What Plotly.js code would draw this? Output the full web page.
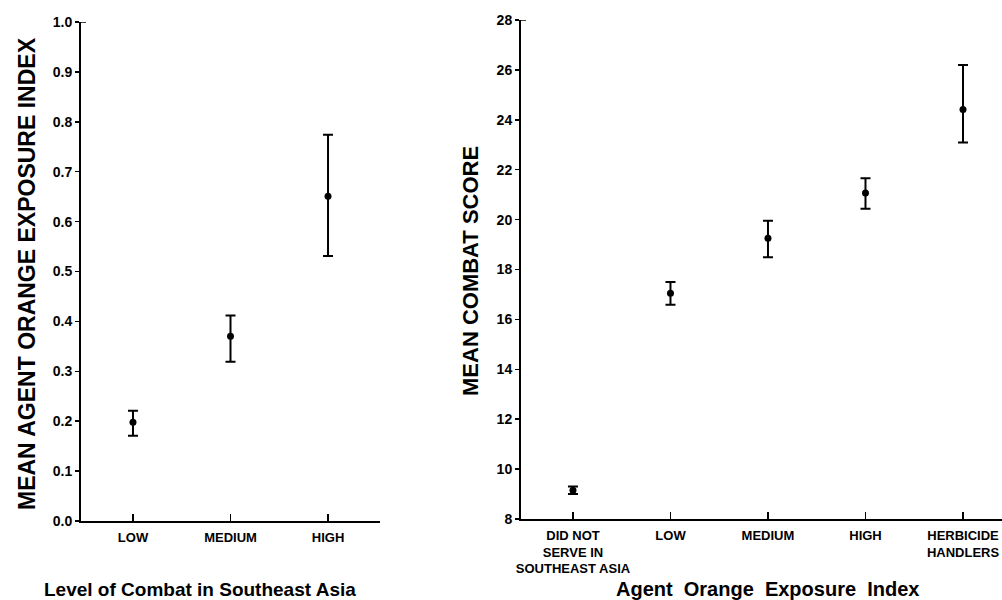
<!DOCTYPE html>
<html>
<head>
<meta charset="utf-8">
<script src="https://cdn.plot.ly/plotly-3.0.1.min.js"></script>
<style>html,body{margin:0;padding:0;background:#fff;}#chart{width:1002px;height:600px;}</style>
</head>
<body>
<div id="chart"></div>
<script>
// Left panel: Mean Agent Orange exposure index by level of combat
var combatLevels = ["LOW", "MEDIUM", "HIGH"];
var combatLabels = ["LOW", "MEDIUM", "HIGH"];
var exposureMean = [0.198, 0.370, 0.651];
var exposureUpper = [0.221, 0.412, 0.774];
var exposureLower = [0.171, 0.319, 0.531];
var leftYTicks = [0.0, 0.1, 0.2, 0.3, 0.4, 0.5, 0.6, 0.7, 0.8, 0.9, 1.0];

// Right panel: Mean combat score by Agent Orange exposure index
var exposureGroups = ["DID NOT SERVE", "LOW", "MEDIUM", "HIGH", "HERBICIDE HANDLERS"];
var exposureLabels = ["DID NOT<br>SERVE IN<br>SOUTHEAST ASIA", "LOW", "MEDIUM", "HIGH", "HERBICIDE<br>HANDLERS"];
var combatMean = [9.15, 17.05, 19.25, 21.07, 24.41];
var combatUpper = [9.30, 17.50, 19.95, 21.66, 26.20];
var combatLower = [9.00, 16.59, 18.49, 20.43, 23.09];
var rightYTicks = [8, 10, 12, 14, 16, 18, 20, 22, 24, 26, 28];

function diff(a, b) { return a.map(function (v, i) { return Math.round((v - b[i]) * 1000) / 1000; }); }

var FONT = "Liberation Sans, Arial, sans-serif";

var traces = [
  {
    type: "scatter", mode: "markers",
    x: combatLevels, y: exposureMean, xaxis: "x", yaxis: "y",
    marker: {color: "#000", size: 7},
    error_y: {type: "data", symmetric: false,
      array: diff(exposureUpper, exposureMean),
      arrayminus: diff(exposureMean, exposureLower),
      color: "#000", thickness: 2, width: 5},
    hoverinfo: "skip", showlegend: false
  },
  {
    type: "scatter", mode: "markers",
    x: exposureGroups, y: combatMean, xaxis: "x2", yaxis: "y2",
    marker: {color: "#000", size: 7},
    error_y: {type: "data", symmetric: false,
      array: diff(combatUpper, combatMean),
      arrayminus: diff(combatMean, combatLower),
      color: "#000", thickness: 2, width: 5},
    hoverinfo: "skip", showlegend: false
  }
];

var xCommon = {
  type: "category", showline: true, linecolor: "#000", linewidth: 2,
  showgrid: false, zeroline: false, ticks: "inside", ticklen: 7, tickwidth: 1.5, tickcolor: "#000",
  ticklabelstandoff: 3,
  tickfont: {family: FONT, size: 13, color: "#000", weight: "bold"}, fixedrange: true
};
var yCommon = {
  showline: true, linecolor: "#000", linewidth: 2, showgrid: false, zeroline: false,
  ticks: "outside", ticklen: 4, tickwidth: 1.5, tickcolor: "#000",
  tickfont: {family: FONT, size: 14, color: "#000", weight: "bold"}, fixedrange: true
};

var layout = {
  width: 1002, height: 600,
  margin: {l: 0, r: 0, t: 0, b: 0},
  paper_bgcolor: "#fff", plot_bgcolor: "#fff",
  showlegend: false,
  xaxis: Object.assign({}, xCommon, {
    domain: [81 / 1002, 380 / 1002], anchor: "y",
    range: [-0.533, 2.533], tickvals: combatLevels, ticktext: combatLabels
  }),
  yaxis: Object.assign({}, yCommon, {
    domain: [79 / 600, 578 / 600], anchor: "x",
    range: [0, 1.0], tickvals: leftYTicks, tickformat: ".1f"
  }),
  xaxis2: Object.assign({}, xCommon, {
    domain: [521 / 1002, 1], anchor: "y2",
    range: [-0.533, 4.4], tickvals: exposureGroups, ticktext: exposureLabels
  }),
  yaxis2: Object.assign({}, yCommon, {
    domain: [81 / 600, 580 / 600], anchor: "x2",
    range: [8, 28], tickvals: rightYTicks
  }),
  shapes: [
    {type: "line", xref: "paper", yref: "y", x0: 81 / 1002, x1: 86 / 1002, y0: 1.0, y1: 1.0,
      line: {color: "#000", width: 1.5}},
    {type: "line", xref: "paper", yref: "y2", x0: 521 / 1002, x1: 526 / 1002, y0: 28, y1: 28,
      line: {color: "#000", width: 1.5}}
  ],
  annotations: [
    {text: "MEAN AGENT ORANGE EXPOSURE INDEX", xref: "paper", yref: "paper",
      x: 27 / 1002, y: (600 - 274) / 600, xanchor: "center", yanchor: "middle", textangle: -90,
      showarrow: false, font: {family: FONT, size: 23, color: "#000", weight: "bold"}},
    {text: "MEAN COMBAT SCORE", xref: "paper", yref: "paper",
      x: 470 / 1002, y: (600 - 271) / 600, xanchor: "center", yanchor: "middle", textangle: -90,
      showarrow: false, font: {family: FONT, size: 22, color: "#000", weight: "bold"}},
    {text: "Level of Combat in Southeast Asia", xref: "paper", yref: "paper",
      x: 200 / 1002, y: (600 - 589) / 600, xanchor: "center", yanchor: "middle",
      showarrow: false, font: {family: FONT, size: 19, color: "#000", weight: "bold"}},
    {text: "Agent  Orange  Exposure  Index", xref: "paper", yref: "paper",
      x: 767 / 1002, y: (600 - 589) / 600, xanchor: "center", yanchor: "middle",
      showarrow: false, font: {family: FONT, size: 20, color: "#000", weight: "bold"}}
  ]
};

Plotly.newPlot("chart", traces, layout, {displayModeBar: false, staticPlot: true});
</script>
</body>
</html>
